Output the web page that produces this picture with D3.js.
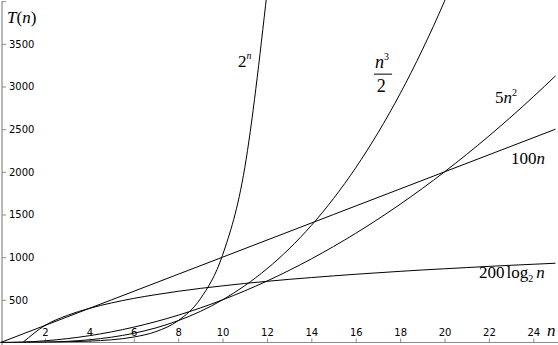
<!DOCTYPE html>
<html>
<head>
<meta charset="utf-8">
<script src="https://cdn.jsdelivr.net/npm/d3@7"></script>
<style>
body{margin:0;background:#fff;}
.tick text{font-family:"DejaVu Sans",sans-serif;font-size:10px;fill:#000;}
.lbl{font-family:"Liberation Serif","Times New Roman",serif;fill:#000;}
</style>
</head>
<body>
<svg id="svg"></svg>
<script>
// values
var nPow2 = [0,1,2,3,4,5,6,7,8,9,10,11,12];
var vPow2 = [1,2,4,8,16,32,64,128,256,512,1024,2048,4096];

var nCube = [0,1,2,3,4,5,6,7,8,9,10,11,12,13,14,15,16,17,18,19,20,21];
var vCube = [0,0.5,4,13.5,32,62.5,108,171.5,256,364.5,500,665.5,864,1098.5,1372,1687.5,2048,2456.5,2916,3429.5,4000,4630.5];

var nSq = [0,1,2,3,4,5,6,7,8,9,10,11,12,13,14,15,16,17,18,19,20,21,22,23,24,25];
var vSq = [0,5,20,45,80,125,180,245,320,405,500,605,720,845,980,1125,1280,1445,1620,1805,2000,2205,2420,2645,2880,3125];

var nLin = [0,5,10,15,20,25];
var vLin = [0,500,1000,1500,2000,2500];

var nLog = [1,2,3,4,5,6,7,8,9,10,11,12,13,14,15,16,17,18,19,20,21,22,23,24,25];
var vLog = [0,200,317,400,464,517,561,600,634,664,692,717,740,761,781,800,817,834,850,864,878,892,905,917,929];

var xTicks = [2,4,6,8,10,12,14,16,18,20,22,24];
var yTicks = [500,1000,1500,2000,2500,3000,3500,4000];

var mapWidth = 558, mapHeight = 345;

var svg = d3.select("#svg")
    .attr("width", mapWidth)
    .attr("height", mapHeight);

var x_scale = d3.scaleLinear()
    .domain([0,25])
    .range([0.6,555.5]);

var y_scale = d3.scaleLinear()
    .domain([0,4000])
    .range([342.5,1.2]);

svg.append("clipPath").attr("id","clip")
  .append("rect").attr("x",0).attr("y",0).attr("width",mapWidth).attr("height",342.5);

// axes
var axisColor = "#8a8a8a";
svg.append("line")
    .attr("x1",0).attr("x2",mapWidth)
    .attr("y1",342.5).attr("y2",342.5)
    .attr("stroke",axisColor).attr("stroke-width",1.2);
svg.append("line")
    .attr("x1",2).attr("x2",2)
    .attr("y1",1).attr("y2",mapHeight)
    .attr("stroke",axisColor).attr("stroke-width",1.2);

var xAxis = svg.append("g")
    .attr("transform","translate(0,342.5)")
    .call(d3.axisTop(x_scale).tickValues(xTicks).tickSize(4).tickPadding(3));
xAxis.select(".domain").remove();
xAxis.selectAll(".tick line").attr("stroke",axisColor);

var yAxis = svg.append("g")
    .attr("transform","translate(2,0)")
    .call(d3.axisRight(y_scale).tickValues(yTicks).tickSize(4).tickPadding(3)
      .tickFormat(function(d){ return d==4000 ? "" : d; }));
yAxis.select(".domain").remove();
yAxis.selectAll(".tick line").attr("stroke",axisColor);

// curves
var lineFunction = d3.line()
    .x(function(d){ return x_scale(d[0]); })
    .y(function(d){ return y_scale(d[1]); })
    .curve(d3.curveMonotoneX);

var series = [
  d3.zip(nPow2,vPow2),
  d3.zip(nCube,vCube),
  d3.zip(nSq,vSq),
  d3.zip(nLin,vLin),
  d3.zip(nLog,vLog)
];

svg.append("g").attr("clip-path","url(#clip)")
  .selectAll("path")
  .data(series)
  .enter().append("path")
    .attr("d", lineFunction)
    .attr("stroke","#000")
    .attr("stroke-width",1)
    .attr("fill","none");

// labels
var T = svg.append("text").attr("class","lbl").attr("font-size",17)
    .attr("x",x_scale(0.29)).attr("y",y_scale(3744));
T.append("tspan").attr("font-style","italic").text("T");
T.append("tspan").text("(");
T.append("tspan").attr("font-style","italic").text("n");
T.append("tspan").text(")");

var axN = svg.append("text").attr("class","lbl").attr("font-size",17)
    .attr("font-style","italic")
    .attr("x",x_scale(24.62)).attr("y",y_scale(76)).text("n");

var p2 = svg.append("text").attr("class","lbl").attr("font-size",17)
    .attr("x",x_scale(10.7)).attr("y",y_scale(3229));
p2.append("tspan").text("2");
p2.append("tspan").attr("font-size",10).attr("font-style","italic").attr("dy",-8).text("n");

var c3 = svg.append("text").attr("class","lbl").attr("font-size",18)
    .attr("x",x_scale(16.87)).attr("y",y_scale(3217));
c3.append("tspan").attr("font-style","italic").text("n");
c3.append("tspan").attr("font-size",10).attr("dy",-8).text("3");
svg.append("line")
    .attr("x1",x_scale(16.82)).attr("x2",x_scale(17.64))
    .attr("y1",y_scale(3145)).attr("y2",y_scale(3145))
    .attr("stroke","#000").attr("stroke-width",1);
svg.append("text").attr("class","lbl").attr("font-size",18)
    .attr("x",x_scale(16.95)).attr("y",y_scale(2936)).text("2");

var s5 = svg.append("text").attr("class","lbl").attr("font-size",17)
    .attr("x",x_scale(22.27)).attr("y",y_scale(2807));
s5.append("tspan").text("5");
s5.append("tspan").attr("font-style","italic").text("n");
s5.append("tspan").attr("font-size",10).attr("dy",-7).text("2");

var l100 = svg.append("text").attr("class","lbl").attr("font-size",17)
    .attr("x",x_scale(22.99)).attr("y",y_scale(2092));
l100.append("tspan").text("100");
l100.append("tspan").attr("font-style","italic").text("n");

var lg = svg.append("text").attr("class","lbl").attr("font-size",17)
    .attr("x",x_scale(21.55)).attr("y",y_scale(756));
lg.append("tspan").text("200");
lg.append("tspan").attr("dx",2).text("log");
lg.append("tspan").attr("font-size",10).attr("dy",4).text("2");
lg.append("tspan").attr("font-style","italic").attr("dx",3).attr("dy",-4).text("n");
</script>
</body>
</html>
